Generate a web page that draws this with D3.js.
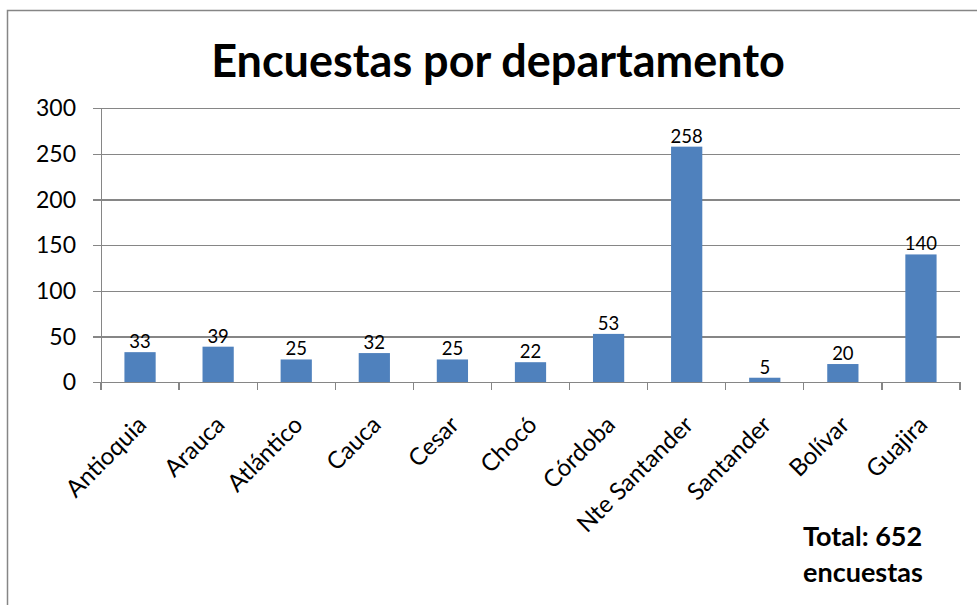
<!DOCTYPE html>
<html lang="es">
    <head>
        <meta charset="utf-8">
        <title>Encuestas por departamento</title>
        <script type="text/javascript" src="https://cdn.jsdelivr.net/npm/d3@7"></script>
        <style>
            body { margin: 0; background: white; }
            svg { font-family: Lato, "Open Sans", sans-serif; }
            .axis path, .axis line { stroke: #868686; stroke-width: 1.3; shape-rendering: crispEdges; }
            .grid line { stroke: #868686; stroke-width: 1.3; shape-rendering: crispEdges; }
            .grid path { display: none; }
        </style>
    </head>
    <body>
        <script type="text/javascript">
            // data
            var departamentos = ["Antioquia", "Arauca", "Atlántico", "Cauca", "Cesar", "Chocó",
                                 "Córdoba", "Nte Santander", "Santander", "Bolívar", "Guajira"];
            var encuestas = [33, 39, 25, 32, 25, 22, 53, 258, 5, 20, 140];
            var yTicks = [0, 50, 100, 150, 200, 250, 300];
            var titulo = "Encuestas por departamento";
            var total = ["Total: 652", "encuestas"];

            var w = 977, h = 605;
            var plotLeft = 101, plotRight = 960, plotTop = 108.3, plotBottom = 382.3;
            var barColor = "#4F81BD";

            var svg = d3.select("body").append("svg").attr("width", w).attr("height", h);

            // outer frame (runs off the right and bottom edges)
            svg.append("rect")
                .attr("x", 7.5).attr("y", 10.5)
                .attr("width", 1000).attr("height", 700)
                .attr("fill", "white")
                .attr("stroke", "#868686")
                .attr("stroke-width", 1.5);

            var xScale = d3.scaleBand()
                .domain(departamentos)
                .range([plotLeft, plotRight])
                .paddingInner(0.6)
                .paddingOuter(0.3);
            var yScale = d3.scaleLinear()
                .domain([0, 300])
                .range([plotBottom, plotTop]);

            // gridlines + y axis
            svg.append("g")
                .attr("class", "grid")
                .attr("transform", "translate(" + plotLeft + ",0)")
                .call(d3.axisLeft(yScale).tickValues(yTicks).tickSize(-(plotRight - plotLeft)).tickFormat(""));

            var yAxis = svg.append("g")
                .attr("class", "axis y")
                .attr("transform", "translate(" + plotLeft + ",0)")
                .call(d3.axisLeft(yScale).tickValues(yTicks).tickSizeInner(8).tickSizeOuter(0).tickPadding(17));
            yAxis.selectAll("text")
                .attr("font-size", "23px")
                .attr("fill", "#000")
                .attr("font-family", "Lato");

            // bars
            svg.selectAll("rect.bar")
                .data(encuestas)
                .enter()
                .append("rect")
                .attr("class", "bar")
                .attr("x", function(d, i) { return xScale(departamentos[i]); })
                .attr("y", function(d) { return yScale(d); })
                .attr("width", xScale.bandwidth())
                .attr("height", function(d) { return plotBottom - yScale(d); })
                .attr("fill", barColor);

            // value labels
            svg.selectAll("text.val")
                .data(encuestas)
                .enter()
                .append("text")
                .attr("class", "val")
                .text(function(d) { return d; })
                .attr("x", function(d, i) { return xScale(departamentos[i]) + xScale.bandwidth() / 2; })
                .attr("y", function(d) { return yScale(d) - 4; })
                .attr("text-anchor", "middle")
                .attr("font-size", "18.5px")
                .attr("fill", "#000");

            // x axis with ticks at category boundaries
            var step = xScale.step();
            var bounds = d3.range(departamentos.length + 1).map(function(i) { return plotLeft + i * step; });
            var xAxis = svg.append("g").attr("class", "axis x");
            xAxis.append("line")
                .attr("x1", plotLeft).attr("x2", plotRight)
                .attr("y1", plotBottom).attr("y2", plotBottom);
            xAxis.selectAll("line.tick")
                .data(bounds)
                .enter()
                .append("line")
                .attr("class", "tick")
                .attr("x1", function(d) { return d; }).attr("x2", function(d) { return d; })
                .attr("y1", plotBottom).attr("y2", plotBottom + 8);

            // rotated category labels
            svg.selectAll("text.cat")
                .data(departamentos)
                .enter()
                .append("text")
                .attr("class", "cat")
                .text(function(d) { return d; })
                .attr("text-anchor", "end")
                .attr("font-size", "24px")
                .attr("fill", "#000")
                .attr("transform", function(d) {
                    var cx = xScale(d) + xScale.bandwidth() / 2 + 8;
                    return "translate(" + cx + "," + (plotBottom + 44) + ") rotate(-45)";
                });

            // title
            svg.append("text")
                .text(titulo)
                .attr("x", 498)
                .attr("y", 77)
                .attr("text-anchor", "middle")
                .attr("font-size", "45px")
                .attr("font-weight", "bold")
                .attr("fill", "#000");

            // total note
            svg.append("g").selectAll("text")
                .data(total)
                .enter()
                .append("text")
                .text(function(d) { return d; })
                .attr("x", 803)
                .attr("y", function(d, i) { return 546 + i * 36; })
                .attr("font-size", "27px")
                .attr("font-weight", "bold")
                .attr("fill", "#000");
        </script>
    </body>
</html>
